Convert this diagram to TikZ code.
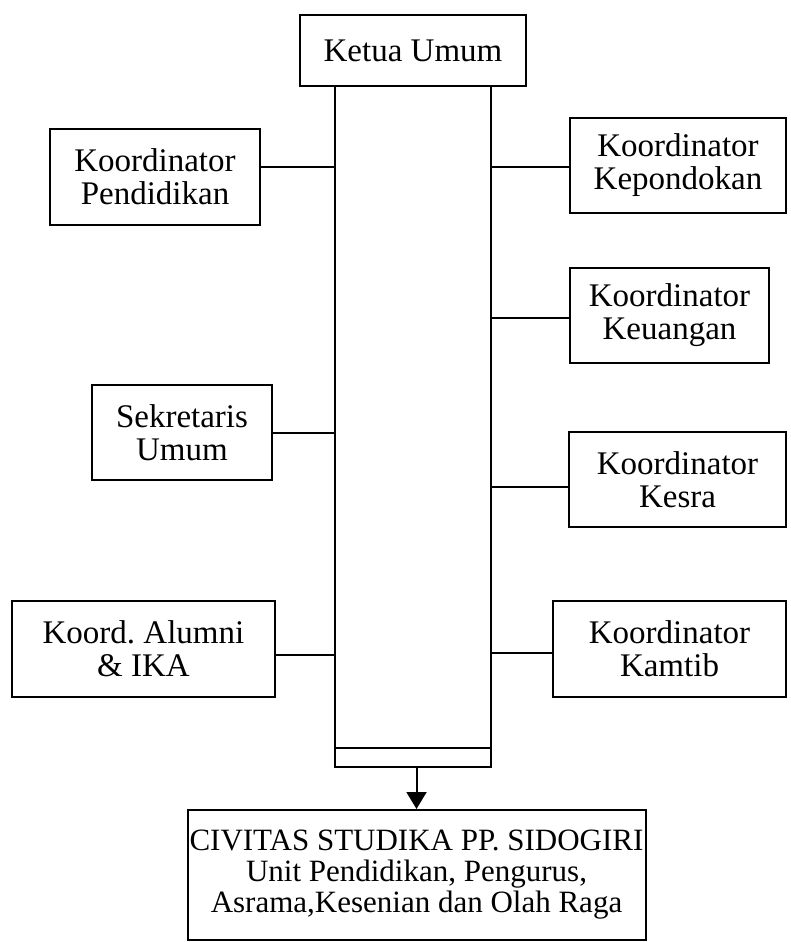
\documentclass[tikz,border=0pt]{standalone}
\usepackage{fontspec}
\setmainfont{Liberation Serif}
\usetikzlibrary{arrows.meta}
\frenchspacing
\begin{document}
\begin{tikzpicture}[x=1pt,y=-1pt,
  box/.style={draw, line width=2pt, rectangle, inner sep=0pt, align=center,
    font=\fontsize{33}{33}\selectfont},
  conn/.style={line width=2pt}]
\useasboundingbox (0,0) rectangle (791,942);
\node[box, minimum width=226pt, minimum height=71pt] (ketua) at (413,50.5) {Ketua Umum};
\node[draw, line width=2pt, inner sep=0pt, minimum width=156pt, minimum height=662pt] (col) at (413,417) {};
\node[draw, line width=2pt, inner sep=0pt, minimum width=156pt, minimum height=19pt] (foot) at (413,757.5) {};
\node[box, minimum width=210pt, minimum height=96pt] (pend) at (155,177) {Koordinator\\Pendidikan};
\node[box, minimum width=180pt, minimum height=95pt] (sekr) at (182,432.5) {Sekretaris\\Umum};
\node[box, minimum width=263pt, minimum height=96pt] (alum) at (143.5,649) {Koord.\ Alumni\\\& IKA};
\node[box, minimum width=216pt, minimum height=95pt] (pond) at (678,165.5) {Koordinator\\Kepondokan};
\node[box, minimum width=199pt, minimum height=95pt] (uang) at (669.5,315.5) {Koordinator\\Keuangan};
\node[box, minimum width=217pt, minimum height=95pt] (kesra) at (677.5,479.5) {Koordinator\\Kesra};
\node[box, minimum width=233pt, minimum height=96pt] (kamtib) at (669.5,649) {Koordinator\\Kamtib};
\node[box, minimum width=458pt, minimum height=130pt, font=\fontsize{31}{31}\selectfont] (civ) at (416.5,875) {CIVITAS STUDIKA PP. SIDOGIRI\\Unit Pendidikan, Pengurus,\\Asrama,Kesenian dan Olah Raga};
\draw[conn] (pend.east |- 0,167) -- (col.west |- 0,167);
\draw[conn] (sekr.east |- 0,433) -- (col.west |- 0,433);
\draw[conn] (alum.east |- 0,655) -- (col.west |- 0,655);
\draw[conn] (col.east |- 0,167) -- (pond.west |- 0,167);
\draw[conn] (col.east |- 0,318) -- (uang.west |- 0,318);
\draw[conn] (col.east |- 0,487) -- (kesra.west |- 0,487);
\draw[conn] (col.east |- 0,653) -- (kamtib.west |- 0,653);
\draw[conn, -{Triangle[length=17pt,width=20pt]}] (civ.north |- foot.south) -- (civ.north);
\end{tikzpicture}
\end{document}
